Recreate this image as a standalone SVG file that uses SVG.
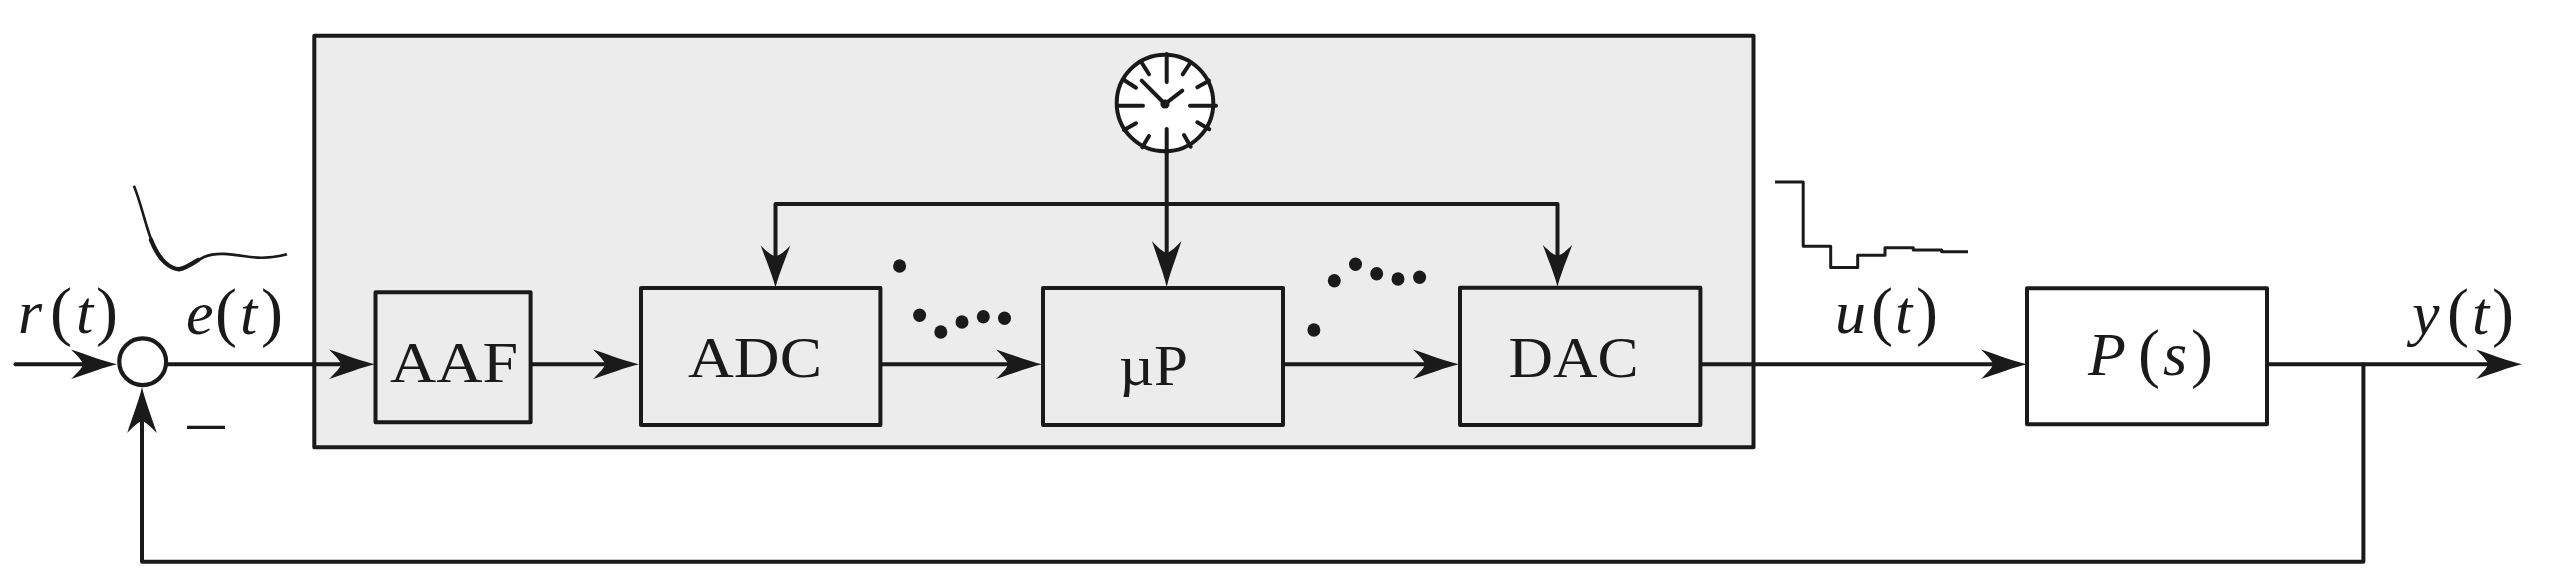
<svg xmlns="http://www.w3.org/2000/svg" width="2568" height="579" viewBox="0 0 2568 579">
<defs>
<style>
.box{fill:#ececec;stroke:#1a1a1a;stroke-width:4;stroke-linejoin:round}
.ln{fill:none;stroke:#1a1a1a;stroke-width:4;stroke-linejoin:round;stroke-linecap:round}
.thin{fill:none;stroke:#1a1a1a;stroke-width:3;stroke-linejoin:round}
.dot{fill:#1a1a1a}
text{font-family:"Liberation Serif","Times New Roman",serif;fill:#1a1a1a}
.lbl{font-size:58px}
.m{font-size:62px;font-style:italic}
.p{font-size:66px;font-style:normal}
</style>
<marker id="arrow" markerUnits="userSpaceOnUse" markerWidth="60" markerHeight="40" refX="0" refY="0" viewBox="-30 -20 60 40" orient="auto" overflow="visible">
<path d="M21 0C8 -3 -6 -8.5 -25 -14.8C-19 -9 -14 -4 -13 0C-14 4 -19 9 -25 14.8C-6 8.5 8 3 21 0Z" fill="#1a1a1a"/>
</marker>
<marker id="arrowS" markerUnits="userSpaceOnUse" markerWidth="60" markerHeight="40" refX="0" refY="0" viewBox="-30 -20 60 40" orient="auto" overflow="visible">
<path d="M21 0C9 -3 -4 -8.5 -21 -14.8C-15 -9 -11 -4 -10 0C-11 4 -15 9 -21 14.8C-4 8.5 9 3 21 0Z" fill="#1a1a1a"/>
</marker>
</defs>
<g id="controller"><rect class="box" x="314.3" y="35.7" width="1439.2" height="411.6"/></g>
<g id="connectors">
<path class="ln" d="M15.5 364.3H96" marker-end="url(#arrow)"/>
<path class="ln" d="M168 364.3H354" marker-end="url(#arrow)"/>
<path class="ln" d="M530.6 364.3H618" marker-end="url(#arrow)"/>
<path class="ln" d="M880.4 364.3H1021" marker-end="url(#arrow)"/>
<path class="ln" d="M1283 364.3H1438" marker-end="url(#arrow)"/>
<path class="ln" d="M1700.4 364.3H2006" marker-end="url(#arrow)"/>
<path class="ln" d="M2267 364.3H2501" marker-end="url(#arrow)"/>
<path class="ln" d="M2363.4 364.3V561.7H142V408" marker-end="url(#arrow)"/>
<path class="ln" d="M1166.7 150V266" marker-end="url(#arrow)"/>
<path class="ln" d="M1166.7 204H775.5V266.5" marker-end="url(#arrowS)"/>
<path class="ln" d="M1166.7 204H1557.5V265.7" marker-end="url(#arrowS)"/>
</g>
<g id="sum"><circle cx="142.7" cy="361.7" r="23.4" fill="#fff" stroke="#1a1a1a" stroke-width="4.2"/></g>
<g id="clock">
<circle cx="1165" cy="103" r="48.3" fill="#fff" stroke="#1a1a1a" stroke-width="4"/>
<path class="ln" d="M1166.7 54V82M1166.7 129V153M1117 105.7H1143M1190 105.7H1216M1182.7 74.3L1190 63.3M1197.3 87.3L1209 80.7M1197.3 122.3L1209.3 129.3M1184 135L1190.7 146.7M1149 136L1142.3 147.3M1136 123.3L1124 130M1136 87.7L1124 80M1149 74.3L1141.7 62.7M1141.7 80.7L1165 104L1182.3 90.7"/>
<circle class="dot" cx="1165" cy="104" r="4.6"/>
</g>
<g id="aaf"><rect class="box" x="375.5" y="292.3" width="155.1" height="130"/><text class="lbl" y="381.7" x="390" textLength="128" lengthAdjust="spacingAndGlyphs">AAF</text></g>
<g id="adc"><rect class="box" x="641" y="288" width="239.4" height="137"/><text class="lbl" y="377.3" x="688" textLength="134" lengthAdjust="spacingAndGlyphs">ADC</text></g>
<g id="up"><rect class="box" x="1043" y="288" width="240" height="137"/><text class="lbl" y="385" x="1119" textLength="69" lengthAdjust="spacingAndGlyphs">µP</text></g>
<g id="dac"><rect class="box" x="1460" y="287.7" width="240.4" height="137.3"/><text class="lbl" y="376.7" x="1508.6" textLength="130" lengthAdjust="spacingAndGlyphs">DAC</text></g>
<g id="plant"><rect x="2027" y="288.3" width="240" height="136" fill="#fff" stroke="#1a1a1a" stroke-width="4" stroke-linejoin="round"/>
<text class="m" y="375"><tspan x="2088">P</tspan><tspan class="p" x="2138">(</tspan><tspan x="2163">s</tspan><tspan class="p" x="2191">)</tspan></text></g>
<g id="signals">
<path d="M133.9 185.7C139 198 143 214 147 227C151 241 156 252 163 260C168 266 173 269.5 179 269.2C187 268.5 195 261.5 204 257C216 252 230 254 245 256.3C258 258.5 272 258.5 287 254.3" fill="none" stroke="#1a1a1a" stroke-width="2.6"/>
<path d="M151 240C155 250 159 257 165 262.5C170 267 174 269.3 179 269.2C185 268.7 191 264.5 198 260" fill="none" stroke="#1a1a1a" stroke-width="4.4" stroke-linecap="round"/>
<path class="thin" d="M1775 182H1803.2V246.3H1830.7V267.6H1857.7V255.3H1885V247.8H1913.3V250H1941.7V251.7H1968"/>
<g id="samples-adc">
<ellipse class="dot" cx="899.6" cy="266" rx="6.5" ry="6.7"/><ellipse class="dot" cx="919.6" cy="315.3" rx="6.5" ry="6.7"/><ellipse class="dot" cx="940.8" cy="332" rx="6.5" ry="6.7"/><ellipse class="dot" cx="962" cy="322" rx="6.5" ry="6.7"/><ellipse class="dot" cx="983.3" cy="316.7" rx="6.5" ry="6.7"/><ellipse class="dot" cx="1004.5" cy="318.3" rx="6.5" ry="6.7"/>
</g>
<g id="samples-up">
<ellipse class="dot" cx="1313.9" cy="330" rx="6.5" ry="6.7"/><ellipse class="dot" cx="1334.3" cy="280.7" rx="6.5" ry="6.7"/><ellipse class="dot" cx="1355.5" cy="264.3" rx="6.5" ry="6.7"/><ellipse class="dot" cx="1376.7" cy="273.7" rx="6.5" ry="6.7"/><ellipse class="dot" cx="1398" cy="279" rx="6.5" ry="6.7"/><ellipse class="dot" cx="1419.6" cy="277.3" rx="6.5" ry="6.7"/>
</g>
</g>
<g id="labels">
<text class="m" y="333.3"><tspan x="18">r</tspan><tspan class="p" x="50">(</tspan><tspan x="76">t</tspan><tspan class="p" x="96">)</tspan></text>
<text class="m" y="334.3"><tspan x="186">e</tspan><tspan class="p" x="215">(</tspan><tspan x="240">t</tspan><tspan class="p" x="261">)</tspan></text>
<text class="m" y="333.3"><tspan x="1835">u</tspan><tspan class="p" x="1871">(</tspan><tspan x="1895">t</tspan><tspan class="p" x="1916">)</tspan></text>
<text class="m" y="334"><tspan x="2412">y</tspan><tspan class="p" x="2447">(</tspan><tspan x="2472">t</tspan><tspan class="p" x="2492">)</tspan></text>
<text x="183" y="449" font-size="66" textLength="46" lengthAdjust="spacingAndGlyphs">−</text>
</g>
</svg>
